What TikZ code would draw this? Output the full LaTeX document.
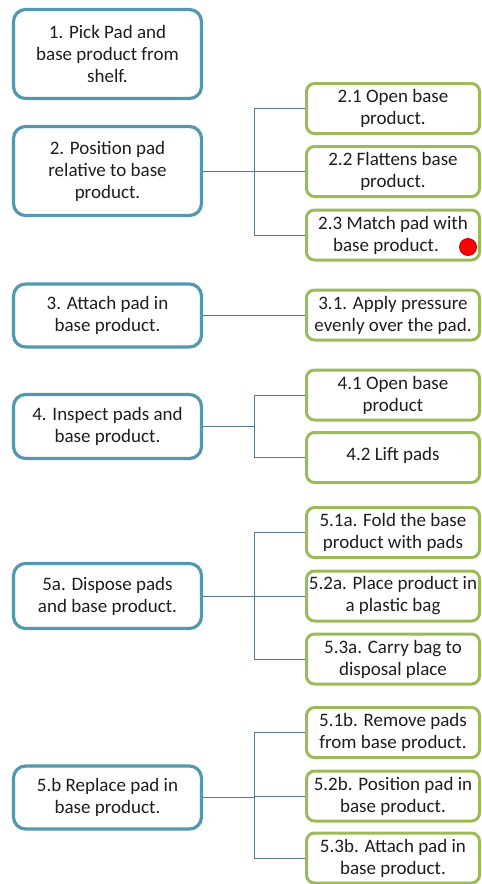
\documentclass[tikz,border=0pt]{standalone}
\usepackage{fontspec}
\setmainfont{Carlito}
\usepackage{tikz}
\usetikzlibrary{positioning}
\usepackage{xcolor}

\definecolor{stepblue}{RGB}{84,152,176}
\definecolor{subgreen}{RGB}{155,187,89}
\definecolor{linkgray}{RGB}{88,118,140}
\definecolor{txt}{RGB}{30,30,30}

\begin{document}
\begin{tikzpicture}[x=1pt,y=-1pt,
    mainbox/.style={draw=stepblue, line width=3.2pt, rounded corners=12pt, fill=white,
        minimum width=188pt, align=center, text=txt, inner sep=2pt,
        font=\fontsize{19}{22}\selectfont},
    subbox/.style={draw=subgreen, line width=3pt, rounded corners=8pt, fill=white,
        minimum width=173pt, minimum height=50pt, align=center, text=txt, inner sep=1pt,
        font=\fontsize{19}{22}\selectfont},
    link/.style={draw=linkgray, line width=0.9pt}]
    \useasboundingbox (0,0) rectangle (482,884);

    % Main steps
    \node[mainbox, minimum height=89pt] (pick) at (107.5,54) {1. Pick Pad and\\base product from\\shelf.};
    \node[mainbox, minimum height=89pt] (pos) at (107.5,171) {2. Position pad\\relative to base\\product.};
    \node[mainbox, minimum height=63pt] (att) at (107.5,315.5) {3. Attach pad in\\base product.};
    \node[mainbox, minimum height=64pt] (insp) at (107.5,426.5) {4. Inspect pads and\\base product.};
    \node[mainbox, minimum height=65pt] (disp) at (107.5,596) {5a. Dispose pads\\and base product.};
    \node[mainbox, minimum height=63pt] (repl) at (107.5,797.5) {5.b Replace pad in\\base product.};

    % Sub steps
    \node[subbox] (s21) at (393,108.5) {2.1 Open base\\product.};
    \node[subbox] (s22) at (393,171.5) {2.2 Flattens base\\product.};
    \node[subbox] (s23) at (393,235) {2.3 Match pad with\\base product.\hspace*{14pt}};
    \node[subbox] (s31) at (393,315) {3.1. Apply pressure\\evenly over the pad.};
    \node[subbox] (s41) at (393,395) {4.1 Open base\\product};
    \node[subbox] (s42) at (393,457.5) {\raisebox{7pt}{4.2 Lift pads}};
    \node[subbox] (s51a) at (393,532.5) {5.1a. Fold the base\\product with pads};
    \node[subbox] (s52a) at (393,596) {5.2a. Place product in\\a plastic bag};
    \node[subbox] (s53a) at (393,659) {5.3a. Carry bag to\\disposal place};
    \node[subbox] (s51b) at (393,732.5) {5.1b. Remove pads\\from base product.};
    \node[subbox] (s52b) at (393,796) {5.2b. Position pad in\\base product.};
    \node[subbox] (s53b) at (393,858) {5.3b. Attach pad in\\base product.};

    % Red marker on 2.3
    \node[circle, fill=red, draw=red!75!black, line width=0.8pt, minimum size=17pt, inner sep=0pt] (dot) at (468,247) {};

    % Branch points
    \coordinate (b2) at (254,171);
    \coordinate (b4) at (254,426.5);
    \coordinate (b5a) at (254,596);
    \coordinate (b5b) at (254,797.5);

    % Connectors
    \draw[link] (pos.east) -- (b2);
    \foreach \c in {s21,s22,s23}
        \draw[link] (\c.west) -| (b2);
    \draw[link] (att.east) -- (att.east -| s31.west);
    \draw[link] (insp.east) -- (b4);
    \foreach \c in {s41,s42}
        \draw[link] (\c.west) -| (b4);
    \draw[link] (disp.east) -- (b5a);
    \foreach \c in {s51a,s52a,s53a}
        \draw[link] (\c.west) -| (b5a);
    \draw[link] (repl.east) -- (b5b);
    \foreach \c in {s51b,s52b,s53b}
        \draw[link] (\c.west) -| (b5b);
\end{tikzpicture}
\end{document}
